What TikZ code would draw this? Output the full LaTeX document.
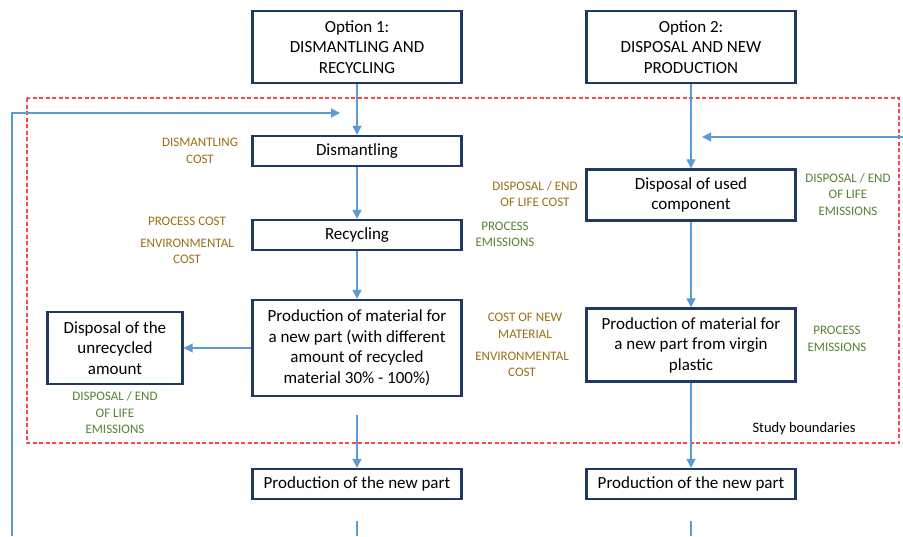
\documentclass[tikz,border=0pt]{standalone}
\usepackage{fontspec}
\setmainfont{Carlito}
\usetikzlibrary{arrows.meta,positioning}
\definecolor{navy}{RGB}{31,56,100}
\definecolor{lblue}{RGB}{91,155,213}
\definecolor{cbrown}{RGB}{156,110,20}
\definecolor{cgreen}{RGB}{84,130,53}
\definecolor{bred}{RGB}{255,70,70}

\begin{document}
\begin{tikzpicture}[x=1pt, y=-1pt, >={Triangle[length=9pt,width=9pt]},
	   b/.style={draw=navy, line width=2.4pt, align=center, inner sep=2pt, minimum width=209pt, font=\fontsize{17}{20.5}\selectfont},
	   c/.style={text=cbrown, align=center, font=\fontsize{13}{16.5}\selectfont},
	   e/.style={text=cgreen, align=center, font=\fontsize{13}{16.5}\selectfont},
	   l/.style={draw=lblue, line width=1.3pt}]
	  \useasboundingbox (0,0) rectangle (903,536);
	  % study boundaries
	  \draw[bred, line width=1.2pt, dash pattern=on 4pt off 2.5pt] (27,98) rectangle (899,443);
	  \node[font=\fontsize{14.5}{17}\selectfont] (sb) at (804,429) {Study boundaries};
	  % option 1
	  \node[b, minimum height=72pt] (opt1) at (357,47) {Option 1:\\ DISMANTLING AND\\ RECYCLING};
	  \node[b, minimum height=30pt] (dis) at (357,151) {Dismantling};
	  \node[b, minimum height=30pt] (rec) at (357,235) {Recycling};
	  \node[b, minimum height=96pt] (mat) at (357,348) {Production of material for\\ a new part (with different\\ amount of recycled\\ material 30\% - 100\%)};
	  \node[b, minimum width=135pt, minimum height=72pt] (unr) at (115,348) {Disposal of the\\ unrecycled\\ amount};
	  \node[b, minimum height=30pt] (new1) at (357,484) {Production of the new part};
	  % option 2
	  \node[b, minimum height=72pt] (opt2) at (691,47) {Option 2:\\ DISPOSAL AND NEW\\ PRODUCTION};
	  \node[b, minimum height=51pt] (used) at (691,195) {Disposal of used\\ component};
	  \node[b, minimum height=73pt] (virg) at (691,345) {Production of material for\\ a new part from virgin\\ plastic};
	  \node[b, minimum height=30pt] (new2) at (691,484) {Production of the new part};
	  % costs and emissions
	  \node[c] (cdis) at (200,151) {DISMANTLING\\ COST};
	  \node[c] (cpro) at (187,221) {PROCESS COST};
	  \node[c] (cenv1) at (187,251.5) {ENVIRONMENTAL\\ COST};
	  \node[e] (epro1) at (505,234.5) {PROCESS\\ EMISSIONS};
	  \node[e] (eunr) at (115,413) {DISPOSAL / END\\ OF LIFE\\ EMISSIONS};
	  \node[c] (cused) at (535,194) {DISPOSAL / END\\ OF LIFE COST};
	  \node[e] (eused) at (848,194.5) {DISPOSAL / END\\ OF LIFE\\ EMISSIONS};
	  \node[c] (cnew) at (525,326) {COST OF NEW\\ MATERIAL};
	  \node[c] (cenv2) at (522,364.5) {ENVIRONMENTAL\\ COST};
	  \node[e] (epro2) at (837,339) {PROCESS\\ EMISSIONS};
	  % free ends
	  \coordinate (m1) at (357,415);
	  \coordinate (t1) at (357,521);
	  \coordinate (t1b) at (357,536);
	  \coordinate (m2) at (691,521);
	  \coordinate (m2b) at (691,536);
	  \coordinate (fb1) at (12,536);
	  \coordinate (fa1) at (340,113);
	  \coordinate (fb2) at (903,137);
	  \coordinate (fa2) at (702,137);
	  % flows
	  \draw[l,->] (opt1) -- (dis);
	  \draw[l,->] (dis) -- (rec);
	  \draw[l,->] (rec) -- (mat);
	  \draw[l,->] (mat) -- (unr);
	  \draw[l,->] (m1) -- (new1);
	  \draw[l] (t1) -- (t1b);
	  \draw[l,->] (fb1) |- (fa1);
	  \draw[l,->] (opt2) -- (used);
	  \draw[l,->] (used) -- (virg);
	  \draw[l,->] (virg) -- (new2);
	  \draw[l] (m2) -- (m2b);
	  \draw[l,->] (fb2) -- (fa2);
	\end{tikzpicture}
\end{document}
